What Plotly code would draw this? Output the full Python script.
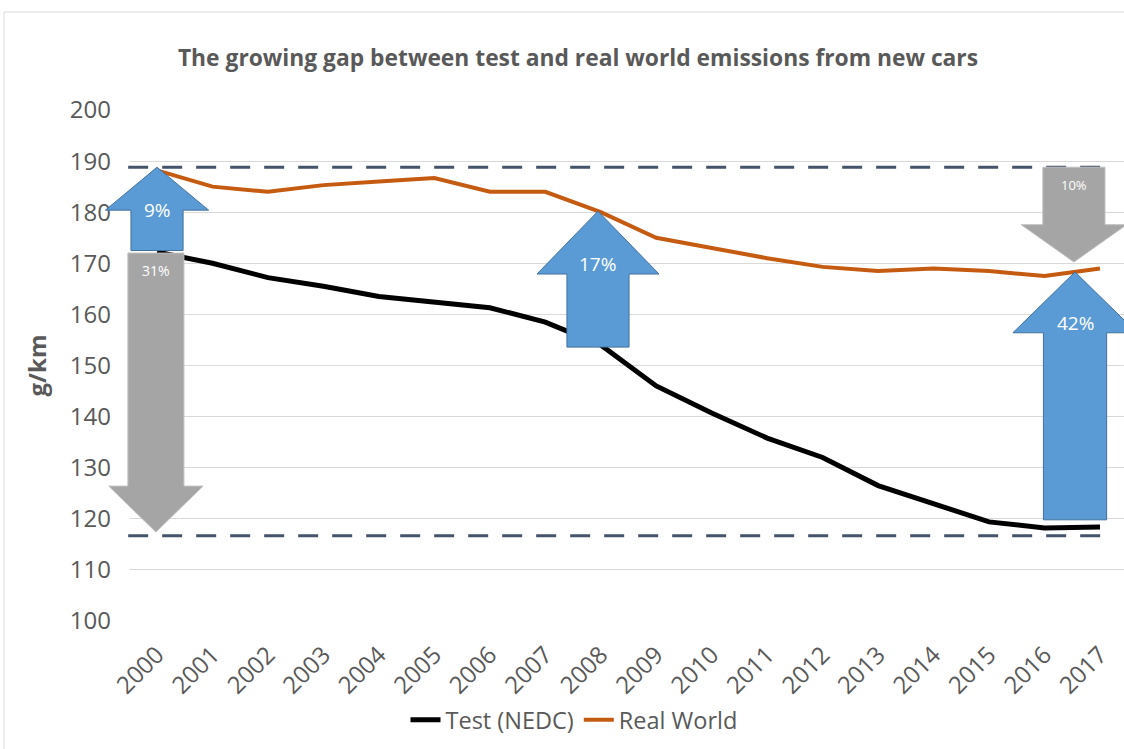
import plotly.graph_objects as go

years = list(range(2000, 2018))
test_nedc = [172.2, 170.0, 167.2, 165.5, 163.5, 162.5, 161.3, 158.5, 154.0, 146.0,
             140.7, 135.8, 132.0, 126.5, 123.0, 119.4, 118.2, 118.4]
real_world = [188.2, 185.0, 184.0, 185.3, 186.0, 186.7, 184.0, 184.0, 180.0, 175.0,
              173.0, 171.0, 169.3, 168.5, 169.0, 168.5, 167.5, 169.0]
ref_levels = [188.8, 116.7]
pct_labels = ["9%", "31%", "17%", "10%", "42%"]

W, H = 1124, 749
ML, MR, MT, MB = 130, 0, 110, 128
XR = [1999.513, 2017.433]
YR = [100, 200]

FONT = "Open Sans"
GREY_TXT = "#595959"
BLUE = "#5B9BD5"
BLUE_EDGE = "#41719C"
GREY = "#A5A5A5"
GREY_EDGE = "#BFBFBF"


def to_px(x):
    return (x - XR[0]) / (XR[1] - XR[0])


def to_py(y):
    return (y - YR[0]) / (YR[1] - YR[0])


fig = go.Figure()
fig.add_trace(go.Scatter(x=years, y=test_nedc, mode="lines", name="Test (NEDC)",
                         line=dict(color="#000000", width=5)))
fig.add_trace(go.Scatter(x=years, y=real_world, mode="lines", name="Real World",
                         line=dict(color="#C55A11", width=4)))


def arrow(xc, y_from, y_to, shaft_hw, head_hw, head_len, fill, edge):
    d = 1 if y_to > y_from else -1
    yb = y_to - d * head_len
    pts = [(xc - shaft_hw, y_from), (xc - shaft_hw, yb), (xc - head_hw, yb),
           (xc, y_to), (xc + head_hw, yb), (xc + shaft_hw, yb), (xc + shaft_hw, y_from)]
    p = "M " + " L ".join(f"{to_px(a):.5f},{to_py(b):.5f}" for a, b in pts) + " Z"
    return dict(type="path", xref="paper", yref="paper", path=p, fillcolor=fill,
                line=dict(color=edge, width=1), layer="above")


shapes = []
for lvl in ref_levels:
    shapes.append(dict(type="line", xref="paper", yref="y", x0=to_px(1999.48),
                       x1=to_px(2017.09), y0=lvl, y1=lvl,
                       line=dict(color="#44546A", width=3, dash="20px,14px"),
                       layer="above"))

shapes.append(arrow(2000.0, 172.5, ref_levels[0], 0.47, 0.93, 8.4, BLUE, BLUE_EDGE))
shapes.append(arrow(1999.98, 172.0, 117.4, 0.505, 0.85, 9.0, GREY, GREY_EDGE))
shapes.append(arrow(2007.95, 153.6, 180.2, 0.56, 1.10, 12.3, BLUE, BLUE_EDGE))
shapes.append(arrow(2016.53, ref_levels[0], 170.25, 0.56, 0.95, 7.3, GREY, GREY_EDGE))
shapes.append(arrow(2016.55, 119.8, 168.3, 0.57, 1.12, 11.9, BLUE, BLUE_EDGE))

bx = (4 - ML) / (W - ML - MR)
by = (H - MB - 12) / (H - MT - MB)
shapes.append(dict(type="line", xref="paper", yref="paper", x0=bx, x1=1.2, y0=by, y1=by,
                   line=dict(color="#D9D9D9", width=1)))
shapes.append(dict(type="line", xref="paper", yref="paper", x0=bx, x1=bx, y0=by, y1=-0.4,
                   line=dict(color="#D9D9D9", width=1)))

ann_pos = [(2000.0, 180.4, 19), (1999.98, 168.5, 14), (2007.95, 169.9, 19),
           (2016.53, 185.3, 13), (2016.55, 158.3, 19)]
annotations = []
for (ax, ay, fs), txt in zip(ann_pos, pct_labels):
    annotations.append(dict(x=to_px(ax), y=to_py(ay), xref="paper", yref="paper", text=txt,
                            showarrow=False, xanchor="center", yanchor="middle",
                            font=dict(family=FONT, size=fs, color="#FFFFFF")))

fig.update_layout(
    width=W, height=H,
    margin=dict(l=ML, r=MR, t=MT, b=MB),
    paper_bgcolor="#FFFFFF", plot_bgcolor="#FFFFFF",
    title=dict(text="<b>The growing gap between test and real world emissions from new cars</b>",
               x=578 / W, xanchor="center", y=1 - 58 / H, yanchor="middle",
               font=dict(family=FONT, size=22.8, color=GREY_TXT)),
    xaxis=dict(range=XR, tickvals=years, ticktext=[str(y) for y in years],
               tickangle=-45, showgrid=False, zeroline=False, showline=False,
               ticks="", ticklabelstandoff=14,
               tickfont=dict(family=FONT, size=24, color=GREY_TXT)),
    yaxis=dict(range=YR, dtick=10, showgrid=True, gridcolor="#D9D9D9", gridwidth=1,
               zeroline=False, showline=False, ticks="", ticklabelstandoff=18,
               title=dict(text="<b>g/km</b>", standoff=16,
                          font=dict(family=FONT, size=24, color=GREY_TXT)),
               tickfont=dict(family=FONT, size=24, color=GREY_TXT)),
    legend=dict(orientation="h", x=(574 - ML) / (W - ML - MR), xanchor="center",
                y=-(720 - (H - MB)) / (H - MT - MB), yanchor="middle",
                font=dict(family=FONT, size=23.5, color=GREY_TXT),
                itemwidth=30, tracegroupgap=0),
    shapes=shapes,
    annotations=annotations,
    showlegend=True,
)

fig.write_html("out.html")
